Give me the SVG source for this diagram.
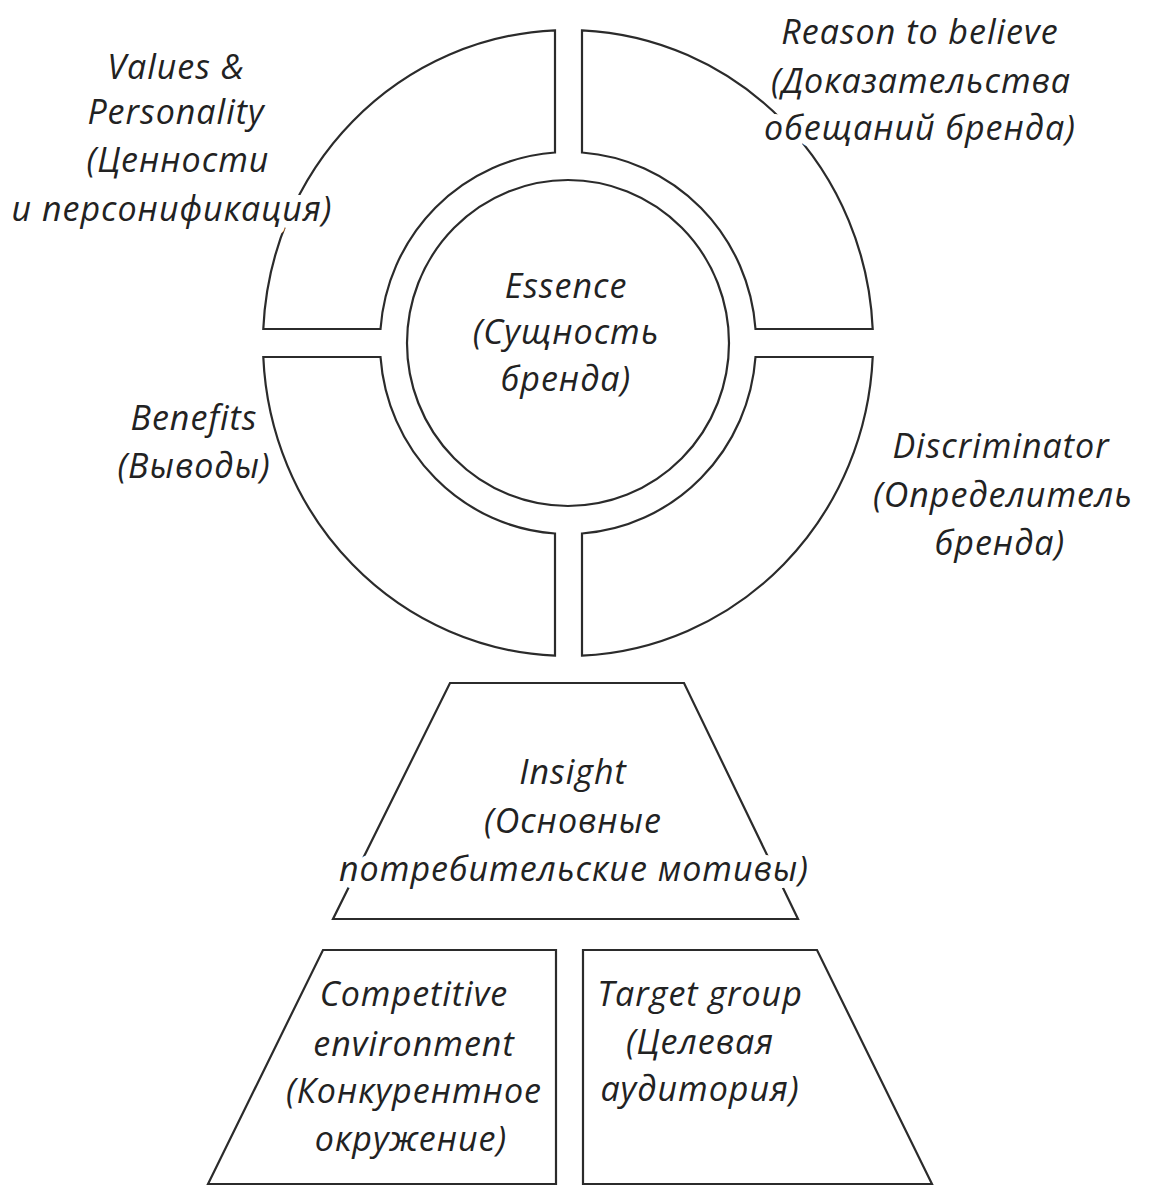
<svg xmlns="http://www.w3.org/2000/svg" width="1151" height="1185" viewBox="0 0 1151 1185">
<style>
.shape{fill:#fff;stroke:#2b2b2b;stroke-width:2.2;stroke-linejoin:miter}
.lbl{font-family:"Open Sans","Noto Sans","DejaVu Sans",sans-serif;font-style:italic;font-size:34px;letter-spacing:1px;fill:#222;text-anchor:middle;stroke:#fff;stroke-width:14;paint-order:stroke;stroke-linejoin:round}
</style>
<rect width="1151" height="1185" fill="#fff"/>
<g id="seg-values">
<path class="shape" d="M555,30.3 L555,152.5 A188,191 0 0 0 380.5,329 L263.3,329 A305,313 0 0 1 555,30.3 Z"/>
</g>
<g id="seg-reason">
<path class="shape" d="M582,30.3 A305,313 0 0 1 872.7,329 L755.5,329 A188,191 0 0 0 582,152.5 Z"/>
</g>
<g id="seg-discriminator">
<path class="shape" d="M582,655.7 L582,533.5 A188,191 0 0 0 755.5,357 L872.7,357 A305,313 0 0 1 582,655.7 Z"/>
</g>
<g id="seg-benefits">
<path class="shape" d="M555,655.7 A305,313 0 0 1 263.3,357 L380.5,357 A188,191 0 0 0 555,533.5 Z"/>
</g>
<g id="essence">
<ellipse class="shape" cx="568" cy="343" rx="161" ry="163"/>
<text class="lbl" x="566" y="298">Essence</text>
<text class="lbl" x="566" y="344">(Сущность</text>
<text class="lbl" x="566" y="391">бренда)</text>
</g>
<g id="insight">
<path class="shape" d="M450,683 L684,683 L798,919 L333,919 Z"/>
<text class="lbl" x="573" y="784">Insight</text>
<text class="lbl" x="573" y="833">(Основные</text>
<text class="lbl" x="574" y="881">потребительские мотивы)</text>
</g>
<g id="competitive">
<path class="shape" d="M323,950 L556,950 L556,1184 L208,1184 Z"/>
<text class="lbl" x="414" y="1006">Competitive</text>
<text class="lbl" x="414" y="1056">environment</text>
<text class="lbl" x="414" y="1103">(Конкурентное</text>
<text class="lbl" x="411" y="1151">окружение)</text>
</g>
<g id="target">
<path class="shape" d="M583,950 L817,950 L932,1184 L583,1184 Z"/>
<text class="lbl" x="700" y="1006">Target group</text>
<text class="lbl" x="700" y="1054">(Целевая</text>
<text class="lbl" x="700" y="1101">аудитория)</text>
</g>
<g id="label-values">
<text class="lbl" x="176" y="79">Values &amp;</text>
<text class="lbl" x="176" y="124">Personality</text>
<text class="lbl" x="178" y="172">(Ценности</text>
<text class="lbl" x="172" y="221">и персонификация)</text>
</g>
<g id="label-reason">
<text class="lbl" x="920" y="44">Reason to believe</text>
<text class="lbl" x="921" y="93">(Доказательства</text>
<text class="lbl" x="920" y="140">обещаний бренда)</text>
</g>
<g id="label-benefits">
<text class="lbl" x="194" y="430">Benefits</text>
<text class="lbl" x="194" y="478">(Выводы)</text>
</g>
<g id="label-discriminator">
<text class="lbl" x="1001" y="458">Discriminator</text>
<text class="lbl" x="1003" y="507">(Определитель</text>
<text class="lbl" x="1000" y="555">бренда)</text>
</g>
</svg>
